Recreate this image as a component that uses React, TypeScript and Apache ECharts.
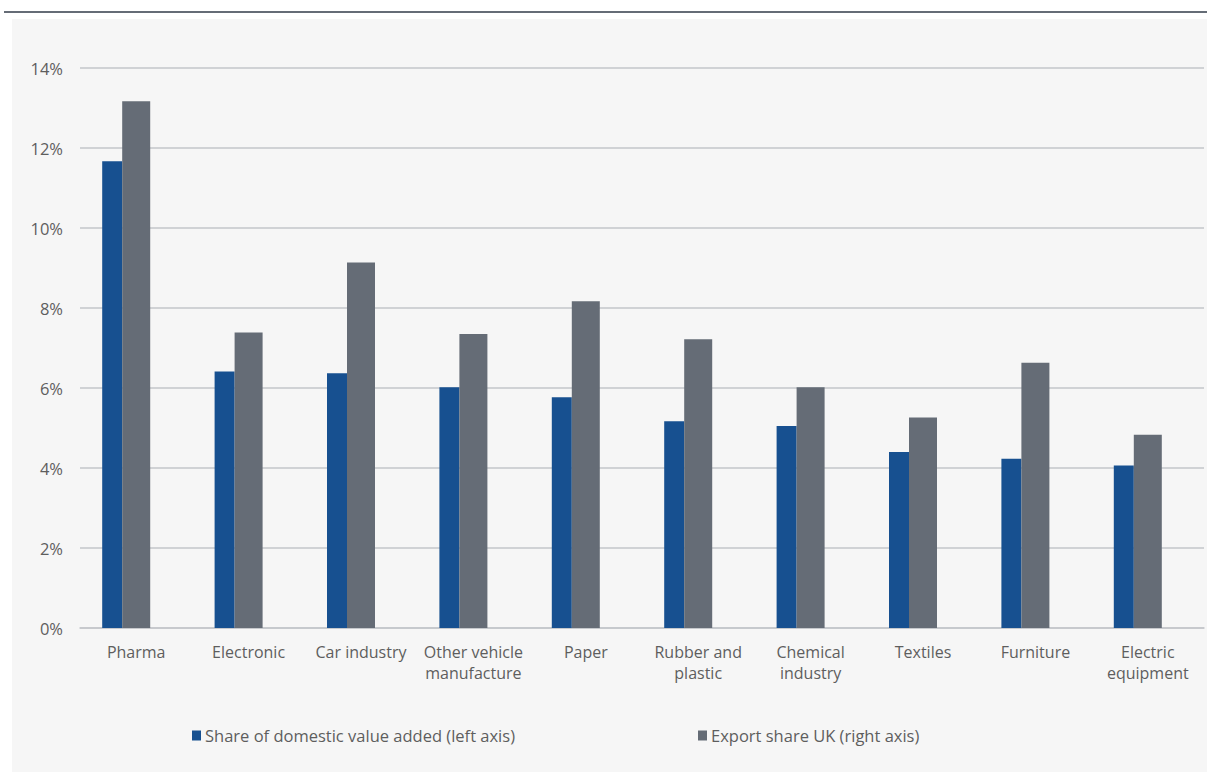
import React, { useEffect, useRef } from "react";
import * as echarts from "echarts";

const categories = [
  "Pharma",
  "Electronic",
  "Car industry",
  "Other vehicle\nmanufacture",
  "Paper",
  "Rubber and\nplastic",
  "Chemical\nindustry",
  "Textiles",
  "Furniture",
  "Electric\nequipment",
];
const domesticValueAdded = [11.67, 6.41, 6.37, 6.02, 5.77, 5.17, 5.05, 4.4, 4.23, 4.06];
const exportShareUK = [13.17, 7.39, 9.14, 7.35, 8.17, 7.22, 6.02, 5.26, 6.63, 4.83];
const padding = [0, 0, 0, 0, 0, 0, 0, 0, 0, 0];
const seriesNames = ["Share of domestic value added (left axis)", "Export share UK (right axis)"];
const yMin = 0;
const yMax = 14;
const yInterval = 2;

const FONT = "Open Sans";
const TEXT = "#5e5e5e";

export default function App() {
  const ref = useRef<HTMLDivElement>(null);
  useEffect(() => {
    if (!ref.current) return;
    const chart = echarts.init(ref.current, undefined, { renderer: "svg" });
    chart.setOption({
      animation: false,
      backgroundColor: "#ffffff",
      textStyle: { fontFamily: FONT },
      graphic: [
        { type: "rect", silent: true, z: -10, shape: { x: 4, y: 11, width: 1203, height: 2 }, style: { fill: "#656c76" } },
        { type: "rect", silent: true, z: -10, shape: { x: 12, y: 19, width: 1195, height: 753 }, style: { fill: "#f6f6f6" } },
      ],
      grid: { left: 80, right: 3, top: 68, bottom: 144, containLabel: false },
      legend: {
        data: seriesNames,
        left: 187,
        top: 722,
        itemWidth: 9,
        itemHeight: 10,
        itemGap: 183,
        icon: "rect",
        textStyle: { fontFamily: FONT, fontSize: 16.5, color: TEXT, padding: [0, 0, 0, -1] },
      },
      xAxis: {
        type: "category",
        data: categories,
        axisTick: { show: false },
        axisLine: { lineStyle: { color: "#c3c6ca", width: 1.5 } },
        axisLabel: {
          interval: 0,
          margin: 13,
          fontFamily: FONT,
          fontSize: 16,
          color: TEXT,
          lineHeight: 21,
        },
      },
      yAxis: {
        type: "value",
        min: yMin,
        max: yMax,
        interval: yInterval,
        axisLine: { show: false },
        axisTick: { show: false },
        splitLine: { lineStyle: { color: "#c3c6ca", width: 1.5 } },
        axisLabel: {
          formatter: "{value}%",
          margin: 17,
          fontFamily: FONT,
          fontSize: 16.5,
          color: TEXT,
        },
      },
      series: [
        {
          name: seriesNames[0],
          type: "bar",
          data: domesticValueAdded,
          barWidth: 20,
          barGap: "0%",
          itemStyle: { color: "#175090" },
        },
        {
          name: seriesNames[1],
          type: "bar",
          data: exportShareUK,
          barWidth: 28,
          barGap: "0%",
          itemStyle: { color: "#656c76" },
        },
        {
          name: "pad",
          type: "bar",
          data: padding,
          barWidth: 20,
          barGap: "0%",
          silent: true,
          itemStyle: { color: "rgba(0,0,0,0)" },
        },
      ],
    });
    return () => chart.dispose();
  }, []);
  return (
    <div
      ref={ref}
      style={{ position: "fixed", left: 0, top: 0, width: 1207, height: 772 }}
    />
  );
}
